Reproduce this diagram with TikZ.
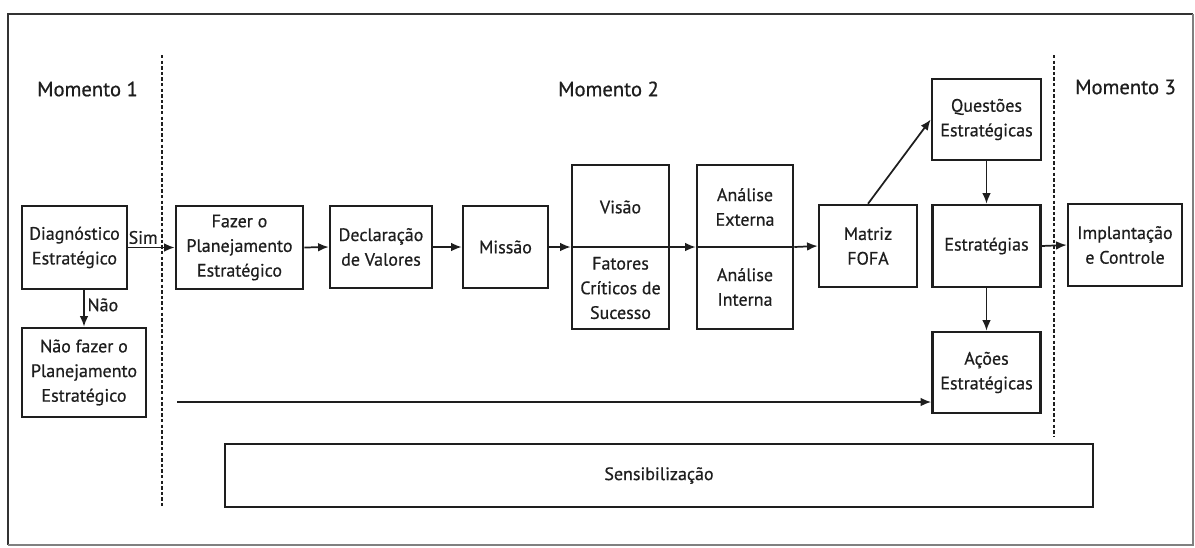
\documentclass[tikz,border=0pt]{standalone}
\usepackage{fontspec}
\setmainfont{PT Sans}[FakeBold=0.6]
\usetikzlibrary{arrows.meta}
\definecolor{ink}{HTML}{1E1E1E}
\definecolor{frame}{HTML}{333333}
\tikzset{
  box/.style={draw=ink, line width=1.9pt, inner sep=0pt, align=center, text=ink,
    font=\fontsize{13.5}{18.5}\selectfont},
  sz/.style 2 args={minimum width=#1*0.75pt, minimum height=#2*0.75pt},
  txt/.style={inner sep=0pt, align=center, text=ink, font=\fontsize{13.5}{18.5}\selectfont},
  mom/.style={inner sep=0pt, text=ink, font=\fontsize{15.5}{18}\selectfont},
  arr/.style={draw=ink, line width=1.3pt, -{Latex[length=8pt,width=6.5pt]}},
  sepline/.style={draw=ink, line width=1.5pt, dash pattern=on 2.6pt off 1.6pt},
}
\begin{document}
\begin{tikzpicture}[x=0.75pt,y=-0.75pt]
\useasboundingbox (0,0) rectangle (1195,547);
% frame
\draw[frame, line width=1.8pt] (8,545) -- (8,14) -- (1193,14);
\draw[gray, line width=1pt] (1193,14) -- (1193,545) -- (8,545);
% separators
\draw[sepline] (162,55) -- (162,507);
\draw[sepline] (1054,55) -- (1054,437);
% moments
\node[mom] (m1) at (87.5,89) {Momento 1};
\node[mom] (m2) at (608.5,89) {Momento 2};
\node[mom] (m3) at (1125.5,87) {Momento 3};
% boxes
\node[box, sz={105}{83}] (diag) at (74.5,247.5) {Diagnóstico\\Estratégico};
\node[box, sz={124}{89}] (naofazer) at (84,372.5) {Não fazer o\\Planejamento\\Estratégico};
\node[box, sz={127}{83}] (fazer) at (239.5,247.5) {Fazer o\\Planejamento\\Estratégico};
\node[box, sz={102}{82}] (decl) at (381,247) {Declaração\\de Valores};
\node[box, sz={85}{82}] (missao) at (505.5,247) {Missão};
\node[box, sz={97}{164}] (visao) at (620.5,247) {};
\node[txt] (visaot) at (620.5,207) {Visão};
\node[txt] (fatores) at (620.5,288) {Fatores\\Críticos de\\Sucesso};
\node[box, sz={96}{164}] (analise) at (745,247) {};
\node[txt] (externa) at (745,207) {Análise\\Externa};
\node[txt] (interna) at (745,287) {Análise\\Interna};
\node[box, sz={98}{82}] (fofa) at (868,246) {Matriz\\FOFA};
\node[box, sz={109}{81}] (quest) at (986.5,119.5) {Questões\\Estratégicas};
\node[box, sz={108}{82}] (estr) at (986.5,246) {Estratégias};
\node[box, sz={108}{81}] (acoes) at (986.5,372.5) {Ações\\Estratégicas};
\node[box, sz={114}{82}] (impl) at (1125,245) {Implantação\\e Controle};
\node[box, sz={868}{63}] (sens) at (659,475.5) {Sensibilização};
% dividers
\draw[ink, line width=1.3pt] (visao.west) -- (visao.east);
\draw[ink, line width=1.3pt] (analise.west) -- (analise.east);
% arrows
\draw[arr] (diag.east) -- node[txt, pos=0.32, above=2pt] {Sim} (fazer.west);
\draw[arr] (naofazer.north |- diag.south) -- node[txt, pos=0.4, right=2pt] {Não} (naofazer.north);
\draw[arr] (fazer.east) -- (decl.west);
\draw[arr] (decl.east) -- (missao.west);
\draw[arr] (missao.east) -- (visao.west);
\draw[arr] (visao.east) -- (analise.west);
\draw[arr] (analise.east) -- (fofa.west);
\draw[arr] (fofa.north) -- (quest.west);
\draw[arr] (quest.south) -- (estr.north);
\draw[arr] (estr.south) -- (acoes.north);
\draw[arr] (estr.east) -- (impl.west);
\coordinate (lstart) at (177,402);
\draw[arr] (lstart) -- (lstart -| acoes.west);
\end{tikzpicture}
\end{document}
